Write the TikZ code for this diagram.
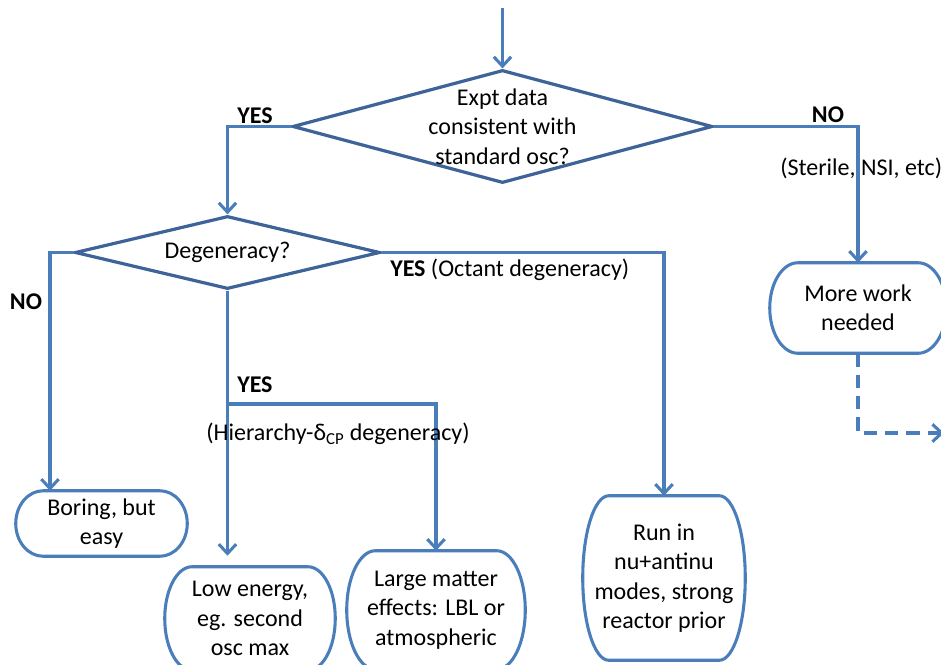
\documentclass[tikz,border=0pt]{standalone}
\usepackage{fontspec}
\setmainfont{Carlito}
\usetikzlibrary{shapes.geometric, arrows.meta, positioning, calc}
\definecolor{ShapeBlue}{HTML}{3D6399}
\definecolor{LinkBlue}{HTML}{4A7EBB}

\tikzset{
  decision/.style={diamond, draw=ShapeBlue, line width=2.4pt, inner sep=0pt},
  flow/.style={draw=LinkBlue, line width=2.3pt,
               -{Straight Barb[length=7pt,width=13pt]}},
  boxline/.style={draw=LinkBlue, line width=2.3pt},
  termbox/.style 2 args={inner sep=0pt, align=center,
               minimum width=#1*0.75pt, minimum height=#2*0.75pt},
  qtext/.style={align=center, inner sep=0pt},
  yesno/.style={font=\fontsize{18}{22}\selectfont\bfseries, inner sep=0pt},
  note/.style={inner sep=0pt}
}

% outline of a flowchart terminator round a node
\newcommand{\termline}[1]{%
  \draw[boxline] let \p1=(#1.north west), \p2=(#1.south east),
      \n1={0.16*(\x2-\x1)}, \n2={(\y1-\y2)/2} in
    (\x1+\n1,\y1) -- (\x2-\n1,\y1)
    arc[start angle=90, end angle=-90, x radius={\n1*1pt}, y radius={\n2*1pt}]
    -- (\x1+\n1,\y2)
    arc[start angle=270, end angle=90, x radius={\n1*1pt}, y radius={\n2*1pt}]
    -- cycle;}

\begin{document}
\begin{tikzpicture}[x=0.75pt, y=-0.75pt,
    every node/.style={font=\fontsize{18}{22}\selectfont}]
  \useasboundingbox (0,0) rectangle (941,664);
  \fill[white] (0,0) rectangle (941,664);
  \clip (0,0) rectangle (941,664);

  % Decisions
  \node[decision, minimum width=315pt, minimum height=84.75pt] (d1) at (502.5,126.5) {};
  \node[qtext] (q1) at (d1.center) {Expt data\\consistent with\\standard osc?};
  \node[decision, minimum width=228.75pt, minimum height=54.75pt] (d2) at (227.5,252.5) {};
  \node[qtext] (q2) at (d2.center) {Degeneracy?};

  % Outcomes
  \node[termbox={171}{65}] (boring) at (101.5,523.5) {Boring, but\\easy};
  \node[termbox={170}{103}] (low) at (250,618.5) {Low energy,\\eg. second\\osc max};
  \node[termbox={178}{118}] (large) at (436,610) {Large matter\\effects: LBL or\\atmospheric};
  \node[termbox={162}{164}] (run) at (664,578) {Run in\\nu+antinu\\modes, strong\\reactor prior};
  \node[termbox={176}{90}] (more) at (858,308) {More work\\needed};
  \foreach \b in {boring, low, large, run, more} {\termline{\b}}

  % Connectors
  \coordinate (entry) at (502.5,8);
  \coordinate (fork) at (227.5,404);
  \coordinate (exit) at (944,433);
  \draw[flow] (entry) -- (d1.north);
  \draw[flow] (d1.west) -| (d2.north);
  \draw[flow] (d1.east) -| (more.north);
  \draw[flow] (d2.west) -| ($(boring.north)+(-51.5,0)$);
  \draw[flow] (d2.east) -| (run.north);
  \draw[flow] (d2.south) -- ($(low.north)+(-22.5,-11)$);
  \draw[flow] (fork) -| (large.north);
  \draw[flow, dash pattern=on 10pt off 6pt] (more.south) |- (exit);

  % Labels
  \node[yesno] (yes1) at (255,116) {YES};
  \node[yesno] (no1) at (828,115) {NO};
  \node[note, anchor=west] (sterile) at (780,168) {(Sterile, NSI, etc)};
  \node[yesno] (no2) at (26,302) {NO};
  \node[note, anchor=west] (octant) at (390,270) {\textbf{YES} (Octant degeneracy)};
  \node[yesno, anchor=west] (yes2) at (237,385) {YES};
  \node[note] (hier) at (338,434) {(Hierarchy-δ\textsubscript{CP} degeneracy)};
\end{tikzpicture}
\end{document}
